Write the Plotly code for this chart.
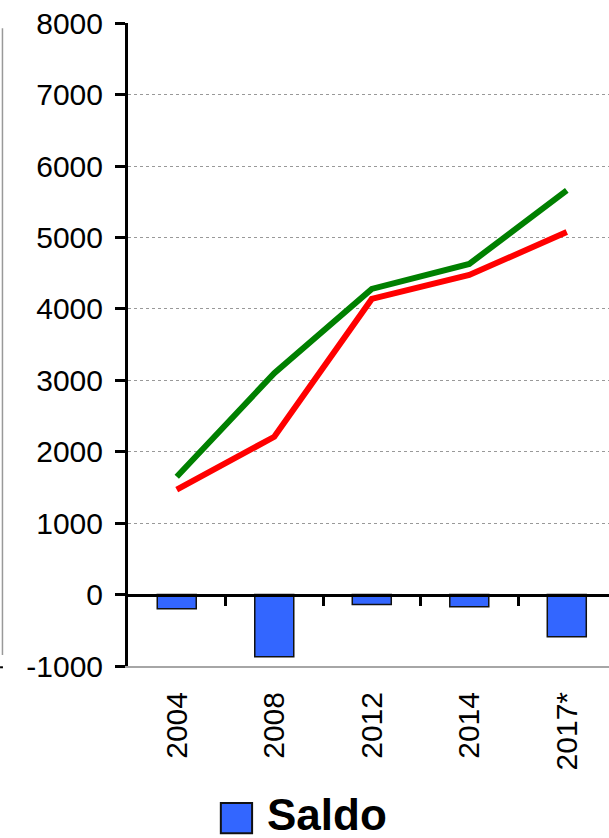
import plotly.graph_objects as go

categories = ["2004", "2008", "2012", "2014", "2017*"]
green_values = [1650, 3100, 4280, 4630, 5660]
red_values = [1470, 2210, 4140, 4475, 5077]
saldo_values = [-200, -870, -140, -170, -590]
y_ticks = [-1000, 0, 1000, 2000, 3000, 4000, 5000, 6000, 7000, 8000]
y_tick_labels = ["-1000", "0", "1000", "2000", "3000", "4000", "5000", "6000", "7000", "8000"]

FONT = "Liberation Sans, Arial, sans-serif"
x = list(range(len(categories)))
bounds = [i + 0.5 for i in x[:-1]]

fig = go.Figure()
fig.add_trace(go.Bar(x=x, y=saldo_values, name="Saldo", width=0.4,
                     marker=dict(color="#3366FF", line=dict(color="#111111", width=1.5)),
                     showlegend=False))
fig.add_trace(go.Scatter(x=x, y=green_values, mode="lines",
                         line=dict(color="#008000", width=6), showlegend=False))
fig.add_trace(go.Scatter(x=x, y=red_values, mode="lines",
                         line=dict(color="#FF0000", width=6), showlegend=False))
# invisible helper trace so the zero-line axis is rendered
fig.add_trace(go.Scatter(x=[x[0]], y=[0], xaxis="x2", mode="markers",
                         marker=dict(opacity=0), showlegend=False, hoverinfo="skip"))

xr = [-0.5, 4.433]
yr = [-1000, 8004]
fig.update_layout(
    width=609, height=838,
    margin=dict(l=128, r=0, t=23, b=172),
    paper_bgcolor="white", plot_bgcolor="white",
    font=dict(family=FONT, color="black", size=30),
    xaxis=dict(range=xr, tickvals=x, ticktext=categories, tickangle=-90,
               showgrid=False, zeroline=False, showline=True,
               linecolor="#a6a6a6", linewidth=2, ticks="",
               ticklabelstandoff=12, tickfont=dict(size=30)),
    xaxis2=dict(range=xr, overlaying="x", anchor="free",
                position=(0 - yr[0]) / (yr[1] - yr[0]),
                tickvals=bounds, showticklabels=False, ticks="outside",
                ticklen=9, tickwidth=3, tickcolor="black",
                showline=True, linecolor="black", linewidth=3,
                showgrid=False, zeroline=False),
    yaxis=dict(range=yr, tickvals=y_ticks, ticktext=y_tick_labels,
               domain=[0, 1], ticklabeloverflow="allow",
               showline=True, linecolor="black", linewidth=3,
               ticks="outside", ticklen=10, tickwidth=3, tickcolor="black",
               showgrid=True, gridcolor="#999999", griddash="dot", gridwidth=1.2,
               zeroline=False, ticklabelstandoff=6, tickfont=dict(size=30)),
    bargap=0.6,
)

# manual legend entry
fig.add_shape(type="rect", xref="paper", yref="paper",
              x0=0.193, x1=0.258, y0=-0.26, y1=-0.213,
              fillcolor="#3366FF", line=dict(color="#111111", width=2))
fig.add_annotation(text="<b>Saldo</b>", xref="paper", yref="paper",
                   x=0.285, y=-0.231, xanchor="left", yanchor="middle",
                   showarrow=False, font=dict(size=44, family=FONT, color="black"))
# left border remnant
fig.add_shape(type="line", xref="paper", yref="paper",
              x0=-0.261, x1=-0.261, y0=0.017, y1=0.992,
              line=dict(color="#999999", width=1.5))
fig.add_shape(type="line", xref="paper", yref="paper",
              x0=-0.266, x1=-0.26, y0=-0.002, y1=-0.002,
              line=dict(color="black", width=2))

fig.write_html("out.html", config={"displayModeBar": False},
               post_script="document.body.style.margin='0';")
